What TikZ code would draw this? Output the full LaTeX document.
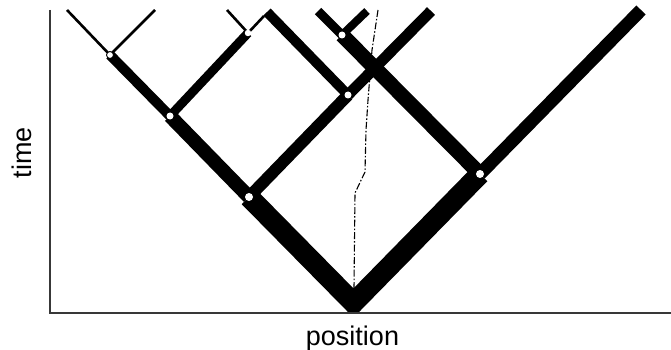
\documentclass[tikz,border=0pt]{standalone}
\usepackage{fontspec}
\setmainfont{Liberation Sans}
\begin{document}
\begin{tikzpicture}[x=1pt,y=-1pt,
  br/.style={line cap=butt, line width=#1},
  knot/.style={circle, fill=white, inner sep=0pt, minimum size=#1},
  knot/.default=7pt,
  axisline/.style={line width=2.5pt, draw=black!78},
  traj/.style={line width=1.1pt, dash pattern=on 7pt off 2pt on 1.5pt off 2pt},
  lbl/.style={font=\fontsize{27}{30}\selectfont}]
\useasboundingbox (0,0) rectangle (671,350);
% branch points
\coordinate (R) at (353.5,303);
\coordinate (A) at (249,197);
\coordinate (B) at (170,116);
\coordinate (C) at (110,55);
\coordinate (D) at (248,33);
\coordinate (E) at (348,95);
\coordinate (F) at (342,35);
\coordinate (G) at (480,174);
% free ends
\coordinate (C1) at (67,10);
\coordinate (C2) at (155,10);
\coordinate (D1) at (227,10);
\coordinate (D2) at (264,16);
\coordinate (E1) at (267,12);
\coordinate (E2) at (431,11);
\coordinate (F1) at (318,11);
\coordinate (F2) at (367,11);
\coordinate (G1) at (641,10);
% axes
\coordinate (O) at (50,313);
\coordinate (Ytop) at (50,10);
\coordinate (Xend) at (671,313);
% root branches (mitred V, clipped at axis)
\begin{scope}
\clip (52,0) rectangle (671,313);
\draw[br=20.5pt, line join=miter] (A) -- (R) -- (G);
\end{scope}
% other branches
\draw[br=14pt] (A) -- (B);
\draw[br=12pt] (A) -- (E);
\draw[br=10pt] (B) -- (C);
\draw[br=9pt] (B) -- (D);
\draw[br=2.6pt] (C) -- (C1);
\draw[br=2.6pt] (C) -- (C2);
\draw[br=2.6pt] (D) -- (D1);
\draw[br=2.6pt] (D) -- (D2);
\draw[br=10pt] (E) -- (E1);
\draw[br=11pt] (E) -- (E2);
\draw[br=15pt] (G) -- (F);
\draw[br=13pt] (G) -- (G1);
\draw[br=9pt] (F) -- (F1);
\draw[br=8pt] (F) -- (F2);
\draw[axisline] (Ytop) -- (O) -- (Xend);
% trajectory
\draw[traj] (378,10) -- (372,50) -- (368,100) -- (366,130) -- (365,172) -- (355,193) -- (354,288);
% white branch dots
\node[knot=8pt] (nA) at (A) {};
\node[knot=8pt] (nG) at (G) {};
\node[knot] (nB) at (B) {};
\node[knot, draw=black, line width=0.9pt] (nC) at (C) {};
\node[knot=6.5pt] (nD) at (D) {};
\node[knot] (nE) at (E) {};
\node[knot] (nF) at (F) {};
% labels
\node[lbl, anchor=base] (xlab) at (352.5,345) {position};
\node[lbl, anchor=base, rotate=90] (ylab) at (31.5,152.5) {time};
\end{tikzpicture}
\end{document}
